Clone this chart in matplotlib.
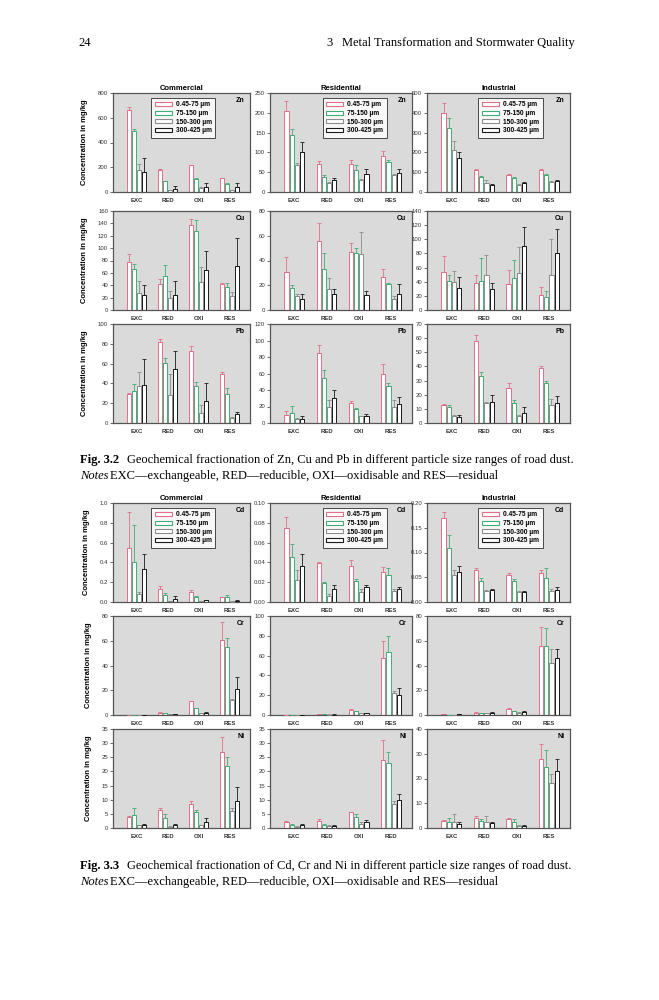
import numpy as np
import matplotlib
matplotlib.use("Agg")
import matplotlib.pyplot as plt
from matplotlib.patches import Patch
from matplotlib.ticker import FormatStrFormatter

plt.rcParams['font.family'] = ['Liberation Sans', 'DejaVu Sans']

fractions = ['EXC', 'RED', 'OXI', 'RES']
sizes = ['0.45-75 µm', '75-150 µm', '150-300 µm', '300-425 µm']
sites = ['Commercial', 'Residential', 'Industrial']

# values: one list per fraction (EXC, RED, OXI, RES), 4 size classes each
# --- Fig 3.2 ---
zn_com = [[665, 490, 180, 160], [180, 85, 15, 25], [215, 105, 30, 40], [110, 65, 15, 40]]
zn_com_err = [[25, 20, 45, 115], [5, 5, 5, 20], [5, 5, 10, 30], [5, 5, 5, 30]]
zn_res = [[205, 145, 68, 100], [70, 38, 22, 30], [70, 55, 30, 45], [92, 77, 42, 48]]
zn_res_err = [[25, 15, 5, 27], [8, 4, 2, 5], [12, 12, 3, 12], [12, 5, 4, 10]]
zn_ind = [[400, 325, 210, 170], [110, 76, 47, 37], [85, 73, 34, 46], [110, 88, 50, 55]]
zn_ind_err = [[50, 50, 50, 30], [5, 5, 12, 5], [5, 5, 5, 5], [5, 5, 5, 8]]

cu_com = [[77, 67, 27, 24], [42, 55, 19, 25], [137, 128, 46, 64], [42, 37, 22, 71]]
cu_com_err = [[13, 8, 20, 17], [8, 17, 12, 22], [10, 18, 24, 31], [1, 6, 7, 46]]
cu_res = [[31, 18, 11, 9], [56, 33, 17, 13], [47, 46, 45, 12], [27, 21, 9, 13]]
cu_res_err = [[12, 2, 2, 4], [14, 13, 9, 4], [7, 4, 18, 3], [6, 1, 2, 8]]
cu_ind = [[54, 41, 40, 31], [38, 41, 50, 29], [37, 45, 53, 91], [21, 18, 50, 80]]
cu_ind_err = [[23, 9, 15, 15], [11, 32, 28, 9], [20, 26, 36, 26], [11, 9, 51, 34]]

pb_com = [[29, 32, 37, 38], [82, 61, 28, 55], [73, 37, 10, 22], [49, 29, 5, 9]]
pb_com_err = [[1, 7, 15, 27], [3, 5, 21, 18], [5, 4, 8, 18], [3, 6, 1, 2]]
pb_res = [[10, 12, 5, 5], [85, 55, 20, 30], [24, 17, 8, 9], [60, 45, 19, 23]]
pb_res_err = [[4, 9, 1, 3], [10, 9, 8, 10], [3, 1, 1, 2], [12, 3, 9, 8]]
pb_ind = [[13, 11, 5, 4], [58, 33, 14, 15], [25, 14, 5, 7], [39, 28, 13, 14]]
pb_ind_err = [[0.5, 2, 0.5, 2], [4, 3, 0.5, 5], [3, 2, 1, 4], [1, 2, 4, 5]]

# --- Fig 3.3 ---
cd_com = [[0.55, 0.40, 0.08, 0.33], [0.13, 0.07, 0.01, 0.03], [0.10, 0.05, 0.01, 0.02], [0.05, 0.05, 0.005, 0.015]]
cd_com_err = [[0.36, 0.38, 0.02, 0.15], [0.03, 0.02, 0.005, 0.03], [0.02, 0.01, 0.003, 0.005], [0.005, 0.02, 0.002, 0.005]]
cd_res = [[0.075, 0.045, 0.022, 0.036], [0.039, 0.019, 0.006, 0.013], [0.036, 0.021, 0.010, 0.015], [0.030, 0.027, 0.011, 0.013]]
cd_res_err = [[0.011, 0.014, 0.010, 0.012], [0.001, 0.001, 0.002, 0.004], [0.006, 0.002, 0.003, 0.002], [0.005, 0.007, 0.002, 0.002]]
cd_ind = [[0.17, 0.11, 0.055, 0.06], [0.065, 0.043, 0.022, 0.024], [0.055, 0.042, 0.020, 0.021], [0.058, 0.048, 0.022, 0.025]]
cd_ind_err = [[0.012, 0.025, 0.010, 0.012], [0.003, 0.005, 0.002, 0.002], [0.003, 0.004, 0.002, 0.002], [0.006, 0.020, 0.004, 0.005]]

cr_com = [[0.3, 0.3, 0.3, 0.3], [2, 1.5, 0.5, 0.5], [11, 5.5, 1.5, 2], [61, 55, 12, 21]]
cr_com_err = [[0, 0, 0, 0], [0.3, 0.3, 0.2, 0.2], [0.5, 0.3, 0.2, 0.5], [14, 7, 1, 10]]
cr_res = [[0.1, 0.1, 0.1, 0.1], [1, 1, 0.5, 0.5], [5, 4, 2, 2], [58, 64, 22, 20]]
cr_res_err = [[0, 0, 0, 0], [0.2, 0.2, 0.2, 0.2], [1, 0.5, 0.3, 0.5], [17, 16, 2, 7]]
cr_ind = [[0.5, 0.3, 0.3, 0.5], [2, 1.5, 1.5, 2], [5, 3, 2, 2.5], [56, 56, 42, 46]]
cr_ind_err = [[0.2, 0.1, 0.1, 0.2], [0.3, 0.3, 0.3, 0.3], [0.3, 0.5, 0.3, 0.5], [15, 14, 11, 7]]

ni_com = [[4, 4.5, 1, 1], [6.5, 3.5, 0.5, 1], [8.5, 5.5, 1, 2], [27, 22, 6, 9.5]]
ni_com_err = [[0.3, 2.5, 0.2, 0.3], [0.6, 1.5, 0.2, 0.5], [1, 1, 0.2, 1.5], [5, 3, 1, 5]]
ni_res = [[2, 1, 0.5, 1], [2.5, 1.2, 0.7, 0.8], [5.5, 4, 1.5, 2], [24, 23, 8.5, 10]]
ni_res_err = [[0.3, 0.3, 0.2, 0.5], [0.8, 0.2, 0.2, 0.2], [0.3, 1, 0.5, 1], [7, 4, 1, 2]]
ni_ind = [[3, 2.5, 2.5, 1.5], [4, 3, 2.5, 2], [3.5, 2.5, 1, 1], [28, 24.5, 18, 23]]
ni_ind_err = [[0.3, 1.5, 3, 1], [1, 0.5, 2.5, 0.3], [0.5, 1, 0.2, 0.2], [6, 7, 4, 5]]

ni_res_labels = ['EXC', 'RED', 'OXI', 'RED']

edge_colors = ['#e0708a', '#3fae74', '#8c8c8c', '#1a1a1a']
W, H = 659, 1000
fig = plt.figure(figsize=(W / 100, H / 100), dpi=100)

cols_px = [(113, 250), (270, 412), (427, 570)]
rows_32 = [(93, 192), (211, 310), (324, 423)]
rows_33 = [(503, 602), (616, 715), (729, 828)]
legend_x = [0.28, 0.37, 0.36]


def add_ax(col, row):
    x0, x1 = col
    y0, y1 = row
    return fig.add_axes([x0 / W, 1 - y1 / H, (x1 - x0) / W, (y1 - y0) / H])


def panel(ax, vals, errs, ymax, step, elem, fmt='%d', labels=fractions):
    vals = np.array(vals).T
    errs = np.array(errs).T
    x = np.arange(1, 5)
    for i in range(4):
        xi = x + (i - 1.5) * 0.16
        ax.bar(xi, vals[i], width=0.13, color='white', edgecolor=edge_colors[i],
               linewidth=0.7, zorder=2)
        ax.errorbar(xi, vals[i], yerr=[np.zeros(4), errs[i]], fmt='none',
                    ecolor=edge_colors[i], elinewidth=0.6, capsize=1.5,
                    capthick=0.6, zorder=3)
    ax.set_facecolor('#dadada')
    ax.set_xlim(0.25, 4.65)
    ax.set_ylim(0, ymax)
    ax.set_yticks(np.arange(0, ymax + step / 2, step))
    ax.yaxis.set_major_formatter(FormatStrFormatter(fmt))
    ax.set_xticks(x)
    ax.set_xticklabels(labels, fontweight='bold')
    ax.tick_params(axis='both', labelsize=4.3, length=2, width=0.5, pad=1.5,
                   colors='#333333')
    ax.tick_params(axis='x', length=0, pad=4)
    for s in ax.spines.values():
        s.set_color('#555555')
        s.set_linewidth(0.9)
    ax.text(0.96, 0.92, elem, transform=ax.transAxes, ha='right', va='center',
            fontsize=5, fontweight='bold')


def add_legend(ax, xpos):
    handles = [Patch(facecolor='white', edgecolor=c, linewidth=0.8) for c in edge_colors]
    leg = ax.legend(handles, sizes, loc='upper left', bbox_to_anchor=(xpos, 0.95),
                    fontsize=4.8, frameon=True, fancybox=False, borderpad=0.5,
                    handlelength=2.6, handleheight=0.55, labelspacing=0.25,
                    handletextpad=0.6, borderaxespad=0)
    leg.get_frame().set_edgecolor('black')
    leg.get_frame().set_linewidth(0.6)
    for t in leg.get_texts():
        t.set_fontweight('bold')


fig32 = [
    ('Zn', [(zn_com, zn_com_err, 800, 200), (zn_res, zn_res_err, 250, 50), (zn_ind, zn_ind_err, 500, 100)]),
    ('Cu', [(cu_com, cu_com_err, 160, 20), (cu_res, cu_res_err, 80, 20), (cu_ind, cu_ind_err, 140, 20)]),
    ('Pb', [(pb_com, pb_com_err, 100, 20), (pb_res, pb_res_err, 120, 20), (pb_ind, pb_ind_err, 70, 10)]),
]
fig33 = [
    ('Cd', [(cd_com, cd_com_err, 1.0, 0.2, '%.1f'), (cd_res, cd_res_err, 0.10, 0.02, '%.2f'),
            (cd_ind, cd_ind_err, 0.20, 0.05, '%.2f')]),
    ('Cr', [(cr_com, cr_com_err, 80, 20), (cr_res, cr_res_err, 100, 20), (cr_ind, cr_ind_err, 80, 20)]),
    ('Ni', [(ni_com, ni_com_err, 35, 5), (ni_res, ni_res_err, 35, 5), (ni_ind, ni_ind_err, 40, 10)]),
]

for rows, spec in [(rows_32, fig32), (rows_33, fig33)]:
    for r, (elem, panels) in enumerate(spec):
        for c, p in enumerate(panels):
            ax = add_ax(cols_px[c], rows[r])
            fmt = p[4] if len(p) > 4 else '%d'
            labels = ni_res_labels if (elem == 'Ni' and c == 1) else fractions
            panel(ax, p[0], p[1], p[2], p[3], elem, fmt, labels)
            if r == 0:
                ax.set_title(sites[c], fontsize=5.5, fontweight='bold', pad=2)
                add_legend(ax, legend_x[c])
            if c == 0:
                ax.set_ylabel('Concentration in mg/kg', fontsize=5.5,
                              fontweight='bold', labelpad=7)

# page text
serif = ['Liberation Serif', 'DejaVu Serif']
def ptext(x, y, s, **kw):
    fig.text(x / W, 1 - y / H, s, family=serif, va='center', **kw)

ptext(78, 43, '24', fontsize=9)
ptext(326, 43, '3', fontsize=9)
ptext(342, 43, 'Metal Transformation and Stormwater Quality', fontsize=9)

ptext(80, 460, 'Fig. 3.2', fontsize=9, fontweight='bold')
ptext(127, 460, 'Geochemical fractionation of Zn, Cu and Pb in different particle size ranges of road dust.', fontsize=9)
ptext(80, 476, 'Notes', fontsize=9, style='italic')
ptext(110, 476, 'EXC—exchangeable, RED—reducible, OXI—oxidisable and RES—residual', fontsize=9)

ptext(80, 866, 'Fig. 3.3', fontsize=9, fontweight='bold')
ptext(127, 866, 'Geochemical fractionation of Cd, Cr and Ni in different particle size ranges of road dust.', fontsize=9)
ptext(80, 882, 'Notes', fontsize=9, style='italic')
ptext(110, 882, 'EXC—exchangeable, RED—reducible, OXI—oxidisable and RES—residual', fontsize=9)

fig.savefig('out.png', dpi=100)
